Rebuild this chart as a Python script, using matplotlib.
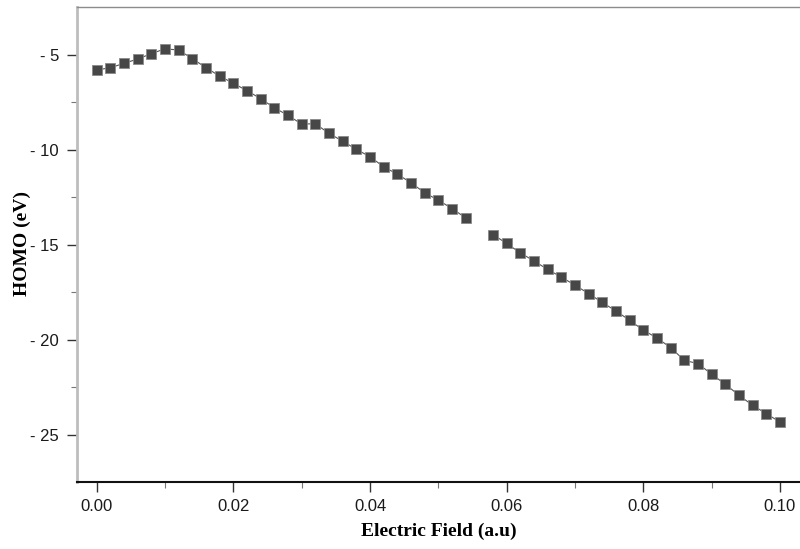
import numpy as np
import matplotlib
matplotlib.use("Agg")
import matplotlib.pyplot as plt
from matplotlib.ticker import MultipleLocator, FuncFormatter

# Electric field values (a.u.); 0.056 missing in the original
field = [0.000, 0.002, 0.004, 0.006, 0.008, 0.010, 0.012, 0.014, 0.016, 0.018,
         0.020, 0.022, 0.024, 0.026, 0.028, 0.030, 0.032, 0.034, 0.036, 0.038,
         0.040, 0.042, 0.044, 0.046, 0.048, 0.050, 0.052, 0.054, 0.056, 0.058,
         0.060, 0.062, 0.064, 0.066, 0.068, 0.070, 0.072, 0.074, 0.076, 0.078,
         0.080, 0.082, 0.084, 0.086, 0.088, 0.090, 0.092, 0.094, 0.096, 0.098,
         0.100]
homo = [-5.79, -5.67, -5.44, -5.21, -4.93, -4.67, -4.74, -5.19, -5.67, -6.11,
        -6.49, -6.88, -7.30, -7.78, -8.18, -8.64, -8.62, -9.13, -9.54, -9.97,
        -10.36, -10.89, -11.28, -11.73, -12.26, -12.65, -13.09, -13.58, None, -14.46,
        -14.93, -15.43, -15.85, -16.30, -16.70, -17.13, -17.57, -18.04, -18.49, -18.98,
        -19.50, -19.91, -20.42, -21.09, -21.26, -21.82, -22.35, -22.93, -23.46, -23.90,
        -24.34]
y_minor = [-7.5, -12.5, -17.5, -22.5]

x = np.array(field, dtype=float)
y = np.array([np.nan if v is None else v for v in homo], dtype=float)

fig = plt.figure(figsize=(8.0, 5.49), dpi=100)
ax = fig.add_axes([77/800, 1 - 482/549, 1 - 77/800 + 0.01, (482 - 7)/549])

ax.plot(x, y, color='#555555', lw=0.8, marker='s', markersize=7.3,
        markerfacecolor='#474747', markeredgecolor='#8a8a8a', markeredgewidth=0.6)

ax.set_xlim(-0.00288, 0.1041)
ax.set_ylim(-27.5, -2.47)

ax.xaxis.set_major_locator(MultipleLocator(0.02))
ax.xaxis.set_minor_locator(MultipleLocator(0.01))
ax.yaxis.set_major_locator(MultipleLocator(5))
ax.set_yticks(y_minor, minor=True)
ax.xaxis.set_major_formatter(FuncFormatter(lambda v, p: f"{v:.2f}"))
ax.yaxis.set_major_formatter(FuncFormatter(
    lambda v, p: f"- {abs(v):.0f}" if v < 0 else f"{v:.0f}"))

ax.tick_params(axis='both', which='major', direction='out', length=7, width=1,
               labelsize=12, colors='#333333', labelcolor='#1a1a1a')
ax.tick_params(axis='both', which='minor', direction='out', length=4, width=0.8,
               colors='#777777')
ax.tick_params(axis='y', pad=6)
ax.tick_params(axis='x', pad=5)

ax.spines['left'].set_color('#bdbdbd')
ax.spines['left'].set_linewidth(2)
ax.spines['top'].set_color('#8c8c8c')
ax.spines['top'].set_linewidth(1)
ax.spines['bottom'].set_color('#111111')
ax.spines['bottom'].set_linewidth(1.5)
ax.spines['right'].set_visible(False)

ax.set_xlabel('Electric Field (a.u)', fontfamily='Liberation Serif',
              fontweight='bold', fontsize=14)
ax.set_ylabel('HOMO (eV)', fontfamily='Liberation Serif',
              fontweight='bold', fontsize=14)
ax_w_px = (1 - 77/800 + 0.01) * 800
ax.xaxis.set_label_coords((439 - 77) / ax_w_px, -(531 - 482) / 475)
ax.xaxis.label.set_verticalalignment('center')
ax.yaxis.set_label_coords(-(77 - 22) / ax_w_px, (482 - 243) / 475)
ax.yaxis.label.set_verticalalignment('center')

for lab in ax.get_xticklabels() + ax.get_yticklabels():
    lab.set_fontfamily('Liberation Sans')

fig.savefig('out.png', dpi=100)
